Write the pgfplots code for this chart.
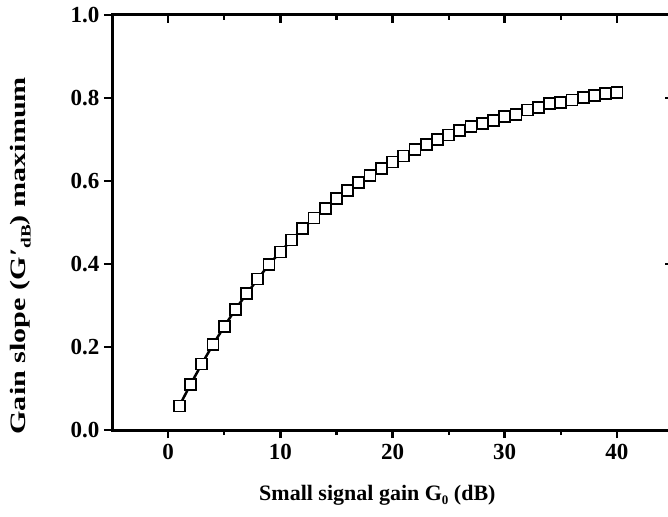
\documentclass[border=0pt]{standalone}
\usepackage{fontspec}
\setmainfont{Liberation Serif}
\usepackage{pgfplots}
\usepackage{pgfplotstable}
\pgfplotsset{compat=1.18}
\pgfplotstableread{
x y
1 0.058
2 0.110
3 0.159
4 0.206
5 0.249
6 0.291
7 0.328
8 0.364
9 0.399
10 0.429
11 0.458
12 0.485
13 0.511
14 0.533
15 0.557
16 0.578
17 0.597
18 0.614
19 0.631
20 0.646
21 0.660
22 0.675
23 0.687
24 0.700
25 0.711
26 0.722
27 0.731
28 0.739
29 0.746
30 0.755
31 0.761
32 0.771
33 0.778
34 0.786
35 0.790
36 0.795
37 0.801
38 0.806
39 0.810
40 0.814
}\gaindata
\begin{document}
\begin{tikzpicture}[x=1pt,y=1pt]
\useasboundingbox (0,0) rectangle (668,516);
\clip (0,0) rectangle (668,516);
\pgfplotsset{
  common/.style={
    at={(112pt,86pt)}, anchor=south west,
    scale only axis, width=561pt, height=415pt,
    xmin=-5, xmax=45, ymin=0, ymax=1,
    axis line style={line width=3pt},
    xtick={0,10,20,30,40},
    minor xtick={5,15,25,35},
    major tick length=8pt, minor tick length=5pt,
    major tick style={line width=2.6pt, black},
    minor tick style={line width=2.2pt, black},
    /pgf/number format/assume math mode=true,
    ticklabel style={font=\fontsize{23}{26}\selectfont\bfseries},
  }
}
\begin{axis}[common,
    ytick={0,0.2,0.4,0.6,0.8,1.0},
    xtick pos=left, ytick pos=left, tick align=outside,
    yticklabel style={/pgf/number format/fixed, /pgf/number format/fixed zerofill, /pgf/number format/precision=1, xshift=-1pt},
    xticklabel style={yshift=-3pt},
    xlabel={Small signal gain G\raisebox{-0.45ex}{\fontsize{13}{13}\selectfont 0} (dB)},
    xlabel style={font=\fontsize{22}{26}\selectfont\bfseries, at={(axis description cs:0.473,-0.157)}, anchor=center},
    ylabel={\scalebox{1.37}[1]{Gain slope (G\char"2032\raisebox{-0.5ex}{\fontsize{14}{14}\selectfont dB}) maximum}},
    ylabel style={font=\fontsize{22}{26}\selectfont\bfseries, at={(axis description cs:-0.163,0.42)}, anchor=center},
  ]
  \addplot[black, line width=2.5pt, mark=square*, mark size=5.5pt,
    mark options={fill=white, draw=black, line width=1.8pt}] table[x=x, y=y] {\gaindata};
\end{axis}
\begin{axis}[common,
    ytick={0.4,0.8},
    xtick pos=right, ytick pos=right, tick align=inside,
    xticklabels={}, yticklabels={},
  ]
\end{axis}
\end{tikzpicture}
\end{document}
